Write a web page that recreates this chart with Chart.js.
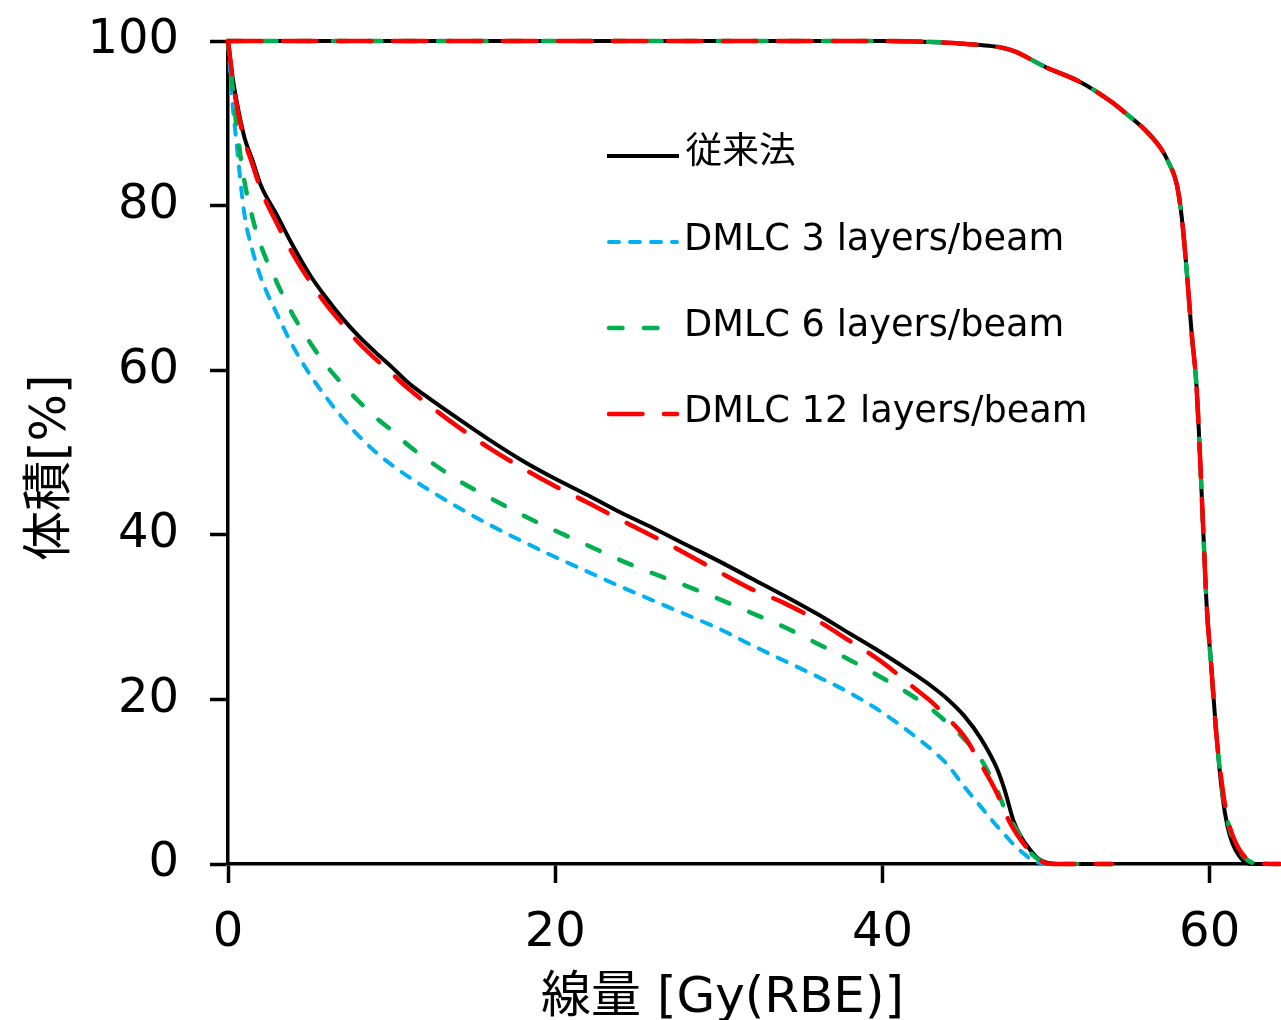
<!DOCTYPE html>
<html>
<head>
<meta charset="utf-8">
<script src="https://cdn.jsdelivr.net/npm/chart.js@4/dist/chart.umd.min.js"></script>
<style>
html,body{margin:0;padding:0;background:#fff;}
#wrap{position:relative;width:1281px;height:1020px;}
#overlay{position:absolute;left:0;top:0;pointer-events:none;}
</style>
</head>
<body>
<div id="wrap">
<canvas id="c" width="1281" height="1020"></canvas>
<svg id="overlay" width="1281" height="1020" xmlns="http://www.w3.org/2000/svg"></svg>
</div>
<script>
// ---- data ----
const seriesNames = ['従来法', 'DMLC 3 layers/beam', 'DMLC 6 layers/beam', 'DMLC 12 layers/beam'];
const seriesColors = ['#000000', '#00B0F0', '#00B050', '#FF0000'];
const xTitle = '線量 [Gy(RBE)]';
const yTitle = '体積[%]';
const xTicks = [0, 20, 40, 60];
const yTicks = [0, 20, 40, 60, 80, 100];

// lower (organ at risk) DVH curves, dose [Gy(RBE)]
const oarDose = [0, 0.25, 0.5, 1, 1.5, 2, 3, 4, 5, 6, 7, 8, 9, 10, 11, 12, 14, 16, 18, 20, 22, 24, 26, 28, 30, 32, 34, 36, 38, 40, 42, 43, 44, 45, 46, 47, 47.5, 48, 48.5, 49, 49.5, 50, 51, 54];
const convOar   = [100, 96, 93, 88.3, 85.5, 82.5, 78.8, 75, 71.6, 68.8, 66.3, 64.1, 62.2, 60.4, 58.5, 57, 54.2, 51.5, 49, 46.8, 44.8, 42.7, 40.8, 38.8, 36.8, 34.7, 32.6, 30.4, 28, 25.6, 23, 21.6, 20, 18, 15.3, 11.6, 8.8, 5.3, 3.2, 1.8, 0.7, 0.2, 0, 0];
const dmlc3Oar  = [100, 93, 88, 79, 74.5, 71.3, 66.8, 62.8, 59.5, 56.7, 54.2, 52, 50.1, 48.5, 47.1, 45.8, 43.4, 41.2, 39.2, 37.3, 35.5, 33.7, 32, 30.3, 28.6, 26.6, 24.7, 22.8, 20.8, 18.4, 15.5, 13.9, 12, 9.4, 7, 4.6, 3.5, 2.4, 1.5, 0.7, 0.2, 0, 0, 0];
const dmlc6Oar  = [100, 95, 90, 83, 78.5, 75.2, 70.6, 66.6, 63.4, 60.6, 58.3, 56.2, 54.3, 52.7, 50.9, 49.4, 46.7, 44.5, 42.4, 40.5, 38.7, 36.9, 35.3, 33.8, 32.2, 30.5, 28.8, 26.8, 24.8, 22.6, 20.2, 18.8, 17.1, 15.2, 12.8, 9, 6.6, 4.8, 3.2, 1.5, 0.6, 0.2, 0, 0];
const dmlc12Oar = [100, 96, 92.5, 88, 85, 82, 77.8, 74, 70.8, 68, 65.6, 63.3, 61.4, 59.6, 57.8, 56.2, 53.2, 50.5, 48.1, 45.9, 43.9, 41.8, 39.8, 37.7, 35.5, 33.4, 31.7, 29.6, 27.1, 24.5, 21.3, 19.7, 17.7, 15.5, 12.2, 8.6, 6.2, 4.3, 2.8, 1.6, 0.7, 0.1, 0, 0];

// upper (target) DVH curves
const tgtDose     = [0, 40, 44, 46, 47, 48, 50, 52, 54, 55, 56, 57, 57.5, 58, 58.3, 58.6, 58.9, 59.2, 59.4, 59.6, 59.8, 60.1, 60.4, 60.8, 61.1, 61.4, 61.8, 62.3, 63, 64.3];
const convTgt     = [100, 100, 99.8, 99.5, 99.3, 98.8, 96.8, 95.1, 92.6, 91, 89.3, 87, 85.2, 82.5, 78.5, 72, 64.5, 58, 50, 41, 32, 24, 16, 8, 4.5, 2.5, 1, 0.1, 0, 0];
const dmlc6Tgt    = [100, 100, 99.8, 99.5, 99.3, 98.8, 96.8, 95.1, 92.6, 91, 89.3, 87, 85.2, 82.5, 78.5, 72, 64.5, 58, 50, 41, 32, 24, 16, 8.5, 5.2, 3.2, 1.6, 0.5, 0, 0];
const dmlc12Tgt   = [100, 100, 99.8, 99.5, 99.3, 98.8, 96.8, 95.1, 92.6, 91, 89.3, 87, 85.2, 82.5, 78.5, 72, 64.5, 58, 50, 41, 32, 24, 16, 9, 5.5, 3.5, 1.8, 0.6, 0.05, 0];

// ---- styling ----
const FONT = '"DejaVu Sans", "Noto Sans CJK JP", sans-serif';
const styles = [
  {color: seriesColors[0], width: 4, dash: [], order: 2},
  {color: seriesColors[1], width: 4, dash: [10, 11], order: 3},
  {color: seriesColors[2], width: 4.5, dash: [13.5, 21.5], order: 1},
  {color: seriesColors[3], width: 4.5, dash: [33.5, 21.5], order: 0}
];

function pts(xs, ys) { return xs.map((x, i) => ({x: x, y: ys[i]})); }

function ds(idx, data) {
  const s = styles[idx];
  return {
    label: seriesNames[idx],
    data: data,
    borderColor: s.color,
    backgroundColor: s.color,
    borderWidth: s.width,
    borderDash: s.dash,
    borderCapStyle: s.dash.length ? 'round' : 'butt',
    borderJoinStyle: 'round',
    pointRadius: 0,
    fill: false,
    cubicInterpolationMode: 'monotone',
    clip: false,
    order: s.order
  };
}

const datasets = [
  ds(0, pts(oarDose, convOar)),
  ds(1, pts(oarDose, dmlc3Oar)),
  ds(2, pts(oarDose, dmlc6Oar)),
  ds(3, pts(oarDose, dmlc12Oar)),
  ds(0, pts(tgtDose, convTgt)),
  ds(2, pts(tgtDose, dmlc6Tgt)),
  ds(3, pts(tgtDose, dmlc12Tgt))
];

new Chart(document.getElementById('c'), {
  type: 'line',
  data: {datasets: datasets},
  options: {
    responsive: false,
    animation: false,
    devicePixelRatio: 1,
    layout: {padding: {top: 41, right: 1, left: 0, bottom: 0}},
    plugins: {legend: {display: false}, tooltip: {enabled: false}},
    scales: {
      x: {
        type: 'linear', min: 0, max: 64.3,
        afterBuildTicks: (s) => { s.ticks = xTicks.map(v => ({value: v})); },
        ticks: {color: '#000', font: {family: FONT, size: 48}, padding: 22, maxRotation: 0, autoSkip: false},
        grid: {display: true, drawOnChartArea: false, drawTicks: true, tickLength: 19, tickWidth: 3.5, tickColor: '#000', color: '#000'},
        border: {display: true, color: '#000', width: 3.5},
        title: {display: false},
        afterFit: (s) => { s.height = 156; s.paddingLeft = 0; s.paddingRight = 0; }
      },
      y: {
        type: 'linear', min: 0, max: 100,
        afterBuildTicks: (s) => { s.ticks = yTicks.map(v => ({value: v})); },
        ticks: {color: '#000', font: {family: FONT, size: 48}, padding: 31, autoSkip: false},
        grid: {display: true, drawOnChartArea: false, drawTicks: true, tickLength: 18, tickWidth: 3.5, tickColor: '#000', color: '#000'},
        border: {display: true, color: '#000', width: 3.5},
        title: {display: false},
        afterFit: (s) => { s.width = 228; s.paddingTop = 0; s.paddingBottom = 0; }
      }
    }
  }
});

// ---- legend and axis titles (SVG overlay, real text) ----
const svgNS = 'http://www.w3.org/2000/svg';
const svg = document.getElementById('overlay');
function addText(str, x, y, size, transform) {
  const tx = document.createElementNS(svgNS, 'text');
  tx.setAttribute('x', x);
  tx.setAttribute('y', y);
  tx.setAttribute('fill', '#000');
  if (transform) tx.setAttribute('transform', transform);
  tx.setAttribute('style', 'font-family:' + FONT + ';font-size:' + size + 'px;');
  tx.textContent = str;
  svg.appendChild(tx);
}
const legendLineY = [156, 242, 328, 414];
const legendTextY = [162.5, 250, 336, 422];
seriesNames.forEach((name, i) => {
  const s = styles[i];
  const ln = document.createElementNS(svgNS, 'line');
  ln.setAttribute('x1', s.dash.length ? 609 : 607);
  ln.setAttribute('x2', s.dash.length ? 677 : 679);
  ln.setAttribute('y1', legendLineY[i]);
  ln.setAttribute('y2', legendLineY[i]);
  ln.setAttribute('stroke', s.color);
  ln.setAttribute('stroke-width', s.width);
  if (s.dash.length) {
    ln.setAttribute('stroke-dasharray', s.dash.join(' '));
    ln.setAttribute('stroke-linecap', 'round');
  }
  svg.appendChild(ln);
  addText(name, i === 0 ? 685.5 : 684, legendTextY[i], 36.7);
});
addText(xTitle, 541, 1012, 50);
addText(yTitle, 0, 0, 50, 'translate(65,561) rotate(-90)');
</script>
</body>
</html>
